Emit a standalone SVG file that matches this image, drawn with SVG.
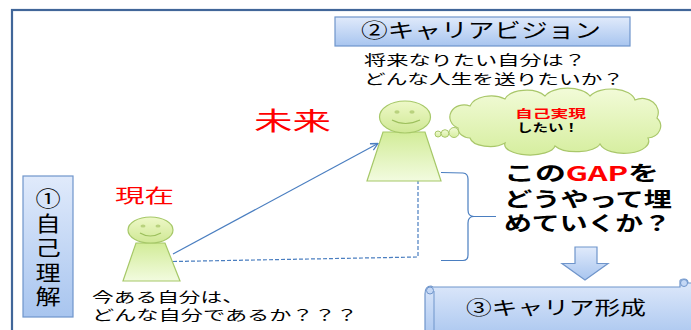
<svg xmlns="http://www.w3.org/2000/svg" width="691" height="330" viewBox="0 0 691 330">
  <defs>
    <linearGradient id="blueBox" x1="0" y1="0" x2="0" y2="1">
      <stop offset="0" stop-color="#e0eafb"/>
      <stop offset="1" stop-color="#a8c5ef"/>
    </linearGradient>
    <linearGradient id="greenHead" x1="0" y1="0" x2="0" y2="1">
      <stop offset="0" stop-color="#eef8c8"/>
      <stop offset="1" stop-color="#cfe894"/>
    </linearGradient>
    <linearGradient id="greenBody" x1="0" y1="0" x2="0" y2="1">
      <stop offset="0" stop-color="#d2ec98"/>
      <stop offset="1" stop-color="#f2fbdf"/>
    </linearGradient>
    <linearGradient id="cloudFill" x1="0" y1="0" x2="0" y2="1">
      <stop offset="0" stop-color="#f2fbd8"/>
      <stop offset="1" stop-color="#d6ee9f"/>
    </linearGradient>
    <marker id="openArrow" viewBox="0 0 10 10" refX="9" refY="5" markerWidth="9" markerHeight="9" orient="auto" markerUnits="userSpaceOnUse">
      <path d="M1,1 L9,5 L1,9" fill="none" stroke="#4a7ec0" stroke-width="1.4"/>
    </marker>
  </defs>
  <style>
    .jp { font-family: "Noto Sans CJK JP", "Noto Sans", sans-serif; fill: #000; }
    .bold { font-weight: bold; }
    .red { fill: #ff0000; }
    .box { fill: url(#blueBox); stroke: #6f95cb; stroke-width: 1.2; }
    .head { fill: url(#greenHead); stroke: #a6c868; stroke-width: 1.2; }
    .body { fill: url(#greenBody); stroke: #a6c868; stroke-width: 1.2; }
    .eye { fill: #b9d27e; }
    .smile { fill: none; stroke: #9cbf5c; stroke-width: 1.2; }
    .link { fill: none; stroke: #4a7ec0; stroke-width: 1.2; }
    .dash { stroke-dasharray: 4 2; }
  </style>

  <rect width="691" height="330" fill="#ffffff"/>

  <!-- outer frame (runs off the right and bottom edges) -->
  <rect id="frame" x="12" y="10" width="700" height="340" fill="none" stroke="#416699" stroke-width="2.2"/>

  <!-- self understanding box, label set vertically -->
  <g id="self-understanding">
    <rect class="box" x="23" y="176" width="50" height="141"/>
    <text class="jp" font-size="21" writing-mode="vertical-rl" letter-spacing="3.5" x="0" y="0" transform="translate(48,188) scale(1.2,1)">①自己理解</text>
  </g>

  <!-- career vision box -->
  <g id="career-vision">
    <rect class="box" x="335" y="17" width="295" height="29"/>
    <text class="jp" x="361" y="38" font-size="20" textLength="240" lengthAdjust="spacingAndGlyphs">②キャリアビジョン</text>
    <text class="jp" font-size="14" lengthAdjust="spacingAndGlyphs">
      <tspan x="364" y="65" textLength="222" lengthAdjust="spacingAndGlyphs">将来なりたい自分は？</tspan>
      <tspan x="364" y="84" textLength="260" lengthAdjust="spacingAndGlyphs">どんな人生を送りたいか？</tspan>
    </text>
  </g>

  <!-- connectors -->
  <g id="connectors">
    <line class="link" x1="173" y1="254" x2="378" y2="143.5" marker-end="url(#openArrow)"/>
    <polyline class="link dash" points="173,261.5 418,257 418,181"/>
    <path class="link" d="M441,172.5 L463,173 Q468,173.5 468,179 L468,210 Q468,216.5 474,216.5 L496,216.5 M474,216.5 Q468,216.5 468,223 L468,255 Q468,260.5 463,260.5 L441,260.5"/>
  </g>

  <!-- present self -->
  <g id="present-self">
    <text class="jp red" x="115" y="203" font-size="19" textLength="59" lengthAdjust="spacingAndGlyphs">現在</text>
    <polygon class="body" points="136,243 165,243 180,281 123,281"/>
    <ellipse class="head" cx="150.5" cy="230" rx="22.5" ry="13"/>
    <ellipse class="eye" cx="143" cy="226" rx="2.5" ry="1.6"/>
    <ellipse class="eye" cx="158" cy="226" rx="2.5" ry="1.6"/>
    <path class="smile" d="M140,233 Q150,239 161,233"/>
    <text class="jp" font-size="14">
      <tspan x="92" y="302" textLength="152" lengthAdjust="spacingAndGlyphs">今ある自分は、</tspan>
      <tspan x="92" y="320" textLength="266" lengthAdjust="spacingAndGlyphs">どんな自分であるか？？？</tspan>
    </text>
  </g>

  <!-- future self -->
  <g id="future-self">
    <text class="jp red" x="254" y="130" font-size="25" textLength="77" lengthAdjust="spacingAndGlyphs">未来</text>
    <polygon class="body" points="383,132 425,132 441,181 367,181"/>
    <ellipse class="head" cx="405" cy="117" rx="25.5" ry="16"/>
    <ellipse class="eye" cx="397" cy="112" rx="2.6" ry="1.7"/>
    <ellipse class="eye" cx="412" cy="112" rx="2.6" ry="1.7"/>
    <path class="smile" d="M392,120 Q405,127 420,120"/>
  </g>

  <!-- thought cloud -->
  <g id="thought-cloud">
    <circle cx="438" cy="134" r="3" fill="url(#cloudFill)" stroke="#a9c76a" stroke-width="1"/>
    <circle cx="445" cy="133.5" r="3.8" fill="url(#cloudFill)" stroke="#a9c76a" stroke-width="1"/>
    <circle cx="454" cy="132.5" r="5" fill="url(#cloudFill)" stroke="#a9c76a" stroke-width="1"/>
    <path d="M458,128 A14,12 0 0 1 470,106 A22,14 0 0 1 505,99 A22,12 0 0 1 545,96 A24,12 0 0 1 590,96 A24,13 0 0 1 635,100 A16,14 0 0 1 657,118 A14,12 0 0 1 648,138 A24,12 0 0 1 600,144 A24,10 0 0 1 555,146 A24,10 0 0 1 505,143 A20,10 0 0 1 470,138 A12,10 0 0 1 458,128 Z" fill="url(#cloudFill)" stroke="#a9c76a" stroke-width="1.2"/>
    <text class="jp bold" font-size="11.5">
      <tspan class="red" x="515" y="118" textLength="71" lengthAdjust="spacingAndGlyphs">自己実現</tspan>
      <tspan x="517" y="131.5" textLength="62" lengthAdjust="spacingAndGlyphs">したい！</tspan>
    </text>
  </g>

  <!-- gap question -->
  <g id="gap-question">
    <text class="jp bold" font-size="20">
      <tspan x="504" y="181" textLength="155" lengthAdjust="spacingAndGlyphs">この<tspan class="red">GAP</tspan>を</tspan>
      <tspan x="504" y="207" textLength="168" lengthAdjust="spacingAndGlyphs">どうやって埋</tspan>
      <tspan x="504" y="231" textLength="167" lengthAdjust="spacingAndGlyphs">めていくか？</tspan>
    </text>
  </g>

  <!-- down arrow -->
  <g id="down-arrow">
    <path class="box" d="M575,247 L597,247 L597,263.5 L608,263.5 L585,280 L562,263.5 L575,263.5 Z"/>
  </g>

  <!-- career formation scroll -->
  <g id="career-formation">
    <path class="box" d="M433,287 L680,287 L680,281 Q680,279 684,279 Q688,279 688,283 L700,283 L700,340 L425,340 L425,294 Q425,286 431,286 Z"/>
    <circle cx="430" cy="290.5" r="3.5" fill="#c5d8f5" stroke="#6f95cb" stroke-width="1"/>
    <line x1="434" y1="291" x2="434" y2="340" stroke="#6f95cb" stroke-width="1"/>
    <circle cx="684" cy="283" r="3.5" fill="#c5d8f5" stroke="#6f95cb" stroke-width="1"/>
    <text class="jp" x="466" y="315" font-size="19" textLength="180" lengthAdjust="spacingAndGlyphs">③キャリア形成</text>
  </g>
</svg>
